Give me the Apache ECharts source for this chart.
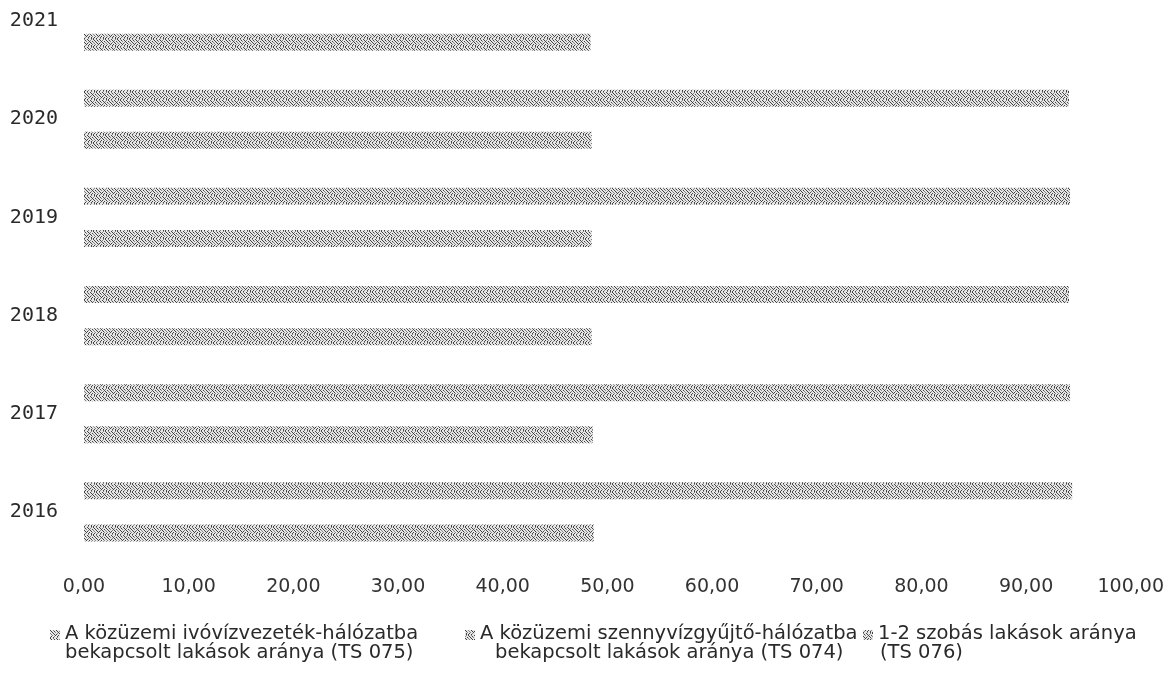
<!DOCTYPE html>
<html><head><meta charset="utf-8">
<script src="https://cdn.jsdelivr.net/npm/echarts@6/dist/echarts.min.js"></script>
<style>
html,body{margin:0;padding:0;background:#fff;overflow:hidden;width:1167px;height:686px;position:relative}
#c{position:absolute;left:0;top:-28px;width:1167px;height:714px}
</style>
</head><body><div id="c"></div>
<script>
// ---- data ----
const years = ['2016', '2017', '2018', '2019', '2020', '2021'];
const seriesNames = [
  'A közüzemi ivóvízvezeték-hálózatba bekapcsolt lakások aránya (TS 075)',
  'A közüzemi szennyvízgyűjtő-hálózatba bekapcsolt lakások aránya (TS 074)',
  '1-2 szobás lakások aránya (TS 076)'
];
const legendLine1 = ['A közüzemi ivóvízvezeték-hálózatba', 'A közüzemi szennyvízgyűjtő-hálózatba', '1-2 szobás lakások aránya'];
const legendLine2 = ['bekapcsolt lakások aránya (TS 075)', 'bekapcsolt lakások aránya (TS 074)', '(TS 076)'];
const ivoviz    = [94.4, 94.2, 94.1, 94.2, 94.1, null];
const szennyviz = [0, 0, 0, 0, 0, 0];
const szobas    = [48.7, 48.6, 48.5, 48.5, 48.5, 48.4];
const xTickLabels = ['0,00','10,00','20,00','30,00','40,00','50,00','60,00','70,00','80,00','90,00','100,00'];

// ---- speckled hatch textures ----
const tileRows = [
  '#..+..#...+.',
  '.#..#..#.+..',
  '..#..+..#..#',
  '+..#...+.#..',
  '.+..#.#...#.',
  '..+..#..#..+',
  '.#..+..#..#.',
  '#..#...+..#.'
];
function makePattern(shift) {
  const w = tileRows[0].length, h = tileRows.length;
  const c = document.createElement('canvas');
  c.width = w; c.height = h;
  const g = c.getContext('2d');
  const col = { '#': '#444444', '+': '#858585', '.': '#e6e6e6' };
  for (let y = 0; y < h; y++) {
    const row = tileRows[(y + shift) % h];
    for (let x = 0; x < w; x++) {
      g.fillStyle = col[row[(x + shift * 3) % w]];
      g.fillRect(x, y, 1, 1);
    }
  }
  return { image: c, repeat: 'repeat' };
}
const patterns = [makePattern(0), makePattern(3), makePattern(5)];
const values = [ivoviz, szennyviz, szobas];

// legend icon: small square sitting at the first text line
const legendIcon = 'path://M0,0L10,0L10,10L0,10Z M0,27L0.01,27';
const legendLefts = [50, 465, 863];
const line2Indent = [0, 15, 2];

const chart = echarts.init(document.getElementById('c'), null, { renderer: 'canvas' });
chart.setOption({
  animation: false,
  backgroundColor: '#fff',
  grid: { left: 84, right: 36, top: 0, bottom: 125, containLabel: false },
  xAxis: {
    type: 'value', min: 0, max: 100, interval: 10,
    axisLine: { show: false }, axisTick: { show: false }, splitLine: { show: false },
    axisLabel: {
      margin: 17, fontSize: 19, fontFamily: 'DejaVu Sans', color: '#333',
      formatter: v => xTickLabels[Math.round(v / 10)]
    }
  },
  yAxis: {
    type: 'category', data: years,
    axisLine: { show: false }, axisTick: { show: false }, splitLine: { show: false },
    axisLabel: { margin: 26, fontSize: 20, fontFamily: 'DejaVu Sans Mono', color: '#2a2a2a', padding: [4, 0, 0, 0] }
  },
  legend: seriesNames.map((n, i) => ({
    left: legendLefts[i], top: 652, padding: 0,
    itemWidth: 10, itemHeight: 27, itemGap: 0,
    icon: legendIcon,
    data: [n],
    formatter: () => '{a|' + legendLine1[i] + '}\n{b|' + legendLine2[i] + '}',
    textStyle: {
      fontSize: 19.5, lineHeight: 19, fontFamily: 'DejaVu Sans', color: '#2a2a2a',
      rich: {
        a: { fontSize: 19.5, lineHeight: 19, fontFamily: 'DejaVu Sans', color: '#2a2a2a' },
        b: { fontSize: 19.5, lineHeight: 19, fontFamily: 'DejaVu Sans', color: '#2a2a2a', padding: [0, 0, 0, line2Indent[i]] }
      }
    }
  })),
  series: seriesNames.map((n, i) => ({
    name: n, type: 'bar', data: values[i],
    barWidth: 17, barGap: '24%',
    itemStyle: { color: patterns[i] }
  }))
});
</script></body></html>
